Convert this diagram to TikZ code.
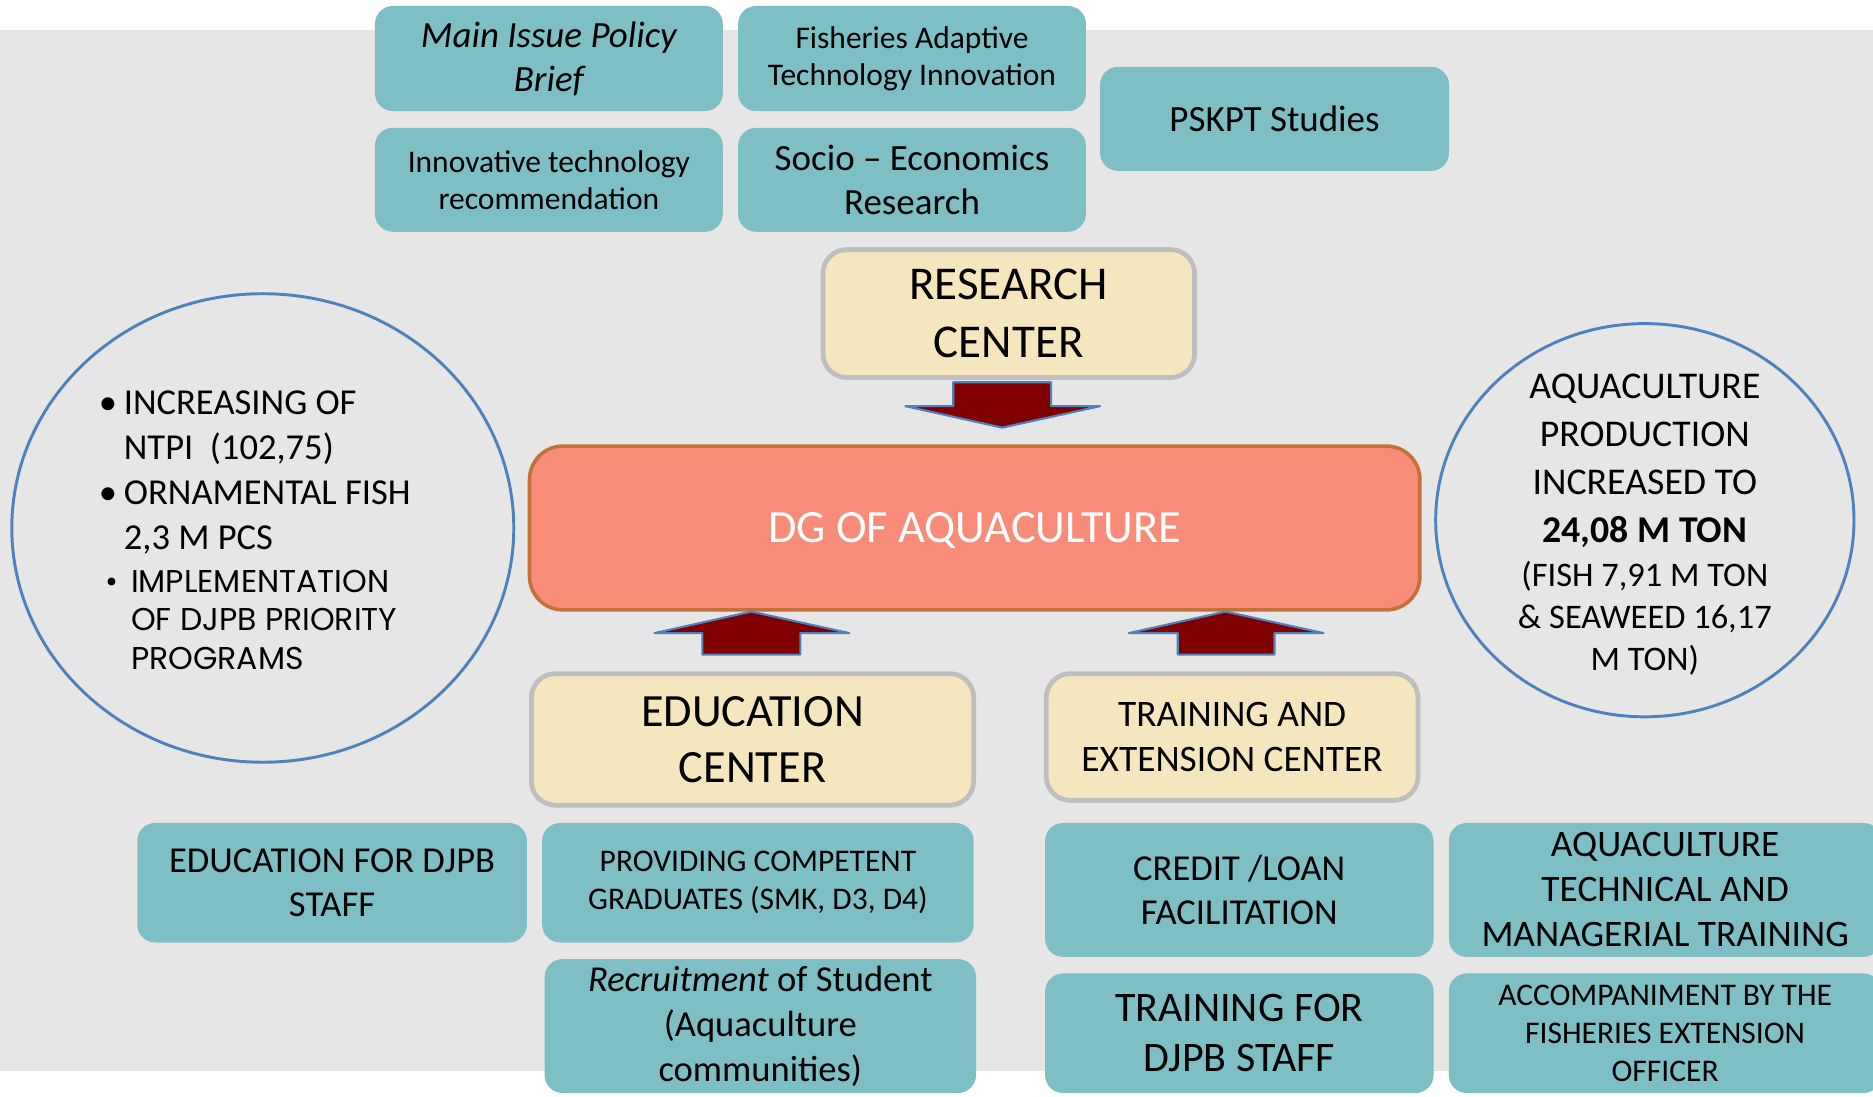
\documentclass[tikz,border=0pt]{standalone}
\usepackage{fontspec}
\setmainfont{Carlito}
\newfontfamily\geofont{Poppins}
\usetikzlibrary{shapes.geometric}
\definecolor{bggray}{RGB}{230,230,230}
\definecolor{tealbox}{RGB}{126,190,197}
\definecolor{wheatbox}{RGB}{246,230,189}
\definecolor{wheatborder}{RGB}{191,191,191}
\definecolor{dgfill}{RGB}{248,140,121}
\definecolor{dgborder}{RGB}{192,114,56}
\definecolor{arrowred}{RGB}{128,0,0}
\definecolor{arrowblue}{RGB}{79,129,189}
\newcommand{\lbul}{\makebox[0.15cm][l]{\hspace*{-0.06cm}•}}
\begin{document}
\begin{tikzpicture}[x=0.01cm,y=-0.01cm,
  tbox/.style={fill=tealbox, rounded corners=0.15cm, align=center, inner sep=0pt},
  cbox/.style={fill=wheatbox, draw=wheatborder, line width=0.04cm, rounded corners=0.2cm, align=center, inner sep=0pt},
  barrow/.style={fill=arrowred, draw=arrowblue, line width=0.5pt, line join=round},
  oval/.style={ellipse, draw=arrowblue, line width=0.7pt, inner sep=0pt}]
\path[use as bounding box] (0,0) rectangle (1568,918);
\fill[white] (0,0) rectangle (1568,918);
\fill[bggray] (0,25) rectangle (1568,897);

% top research outputs
\node[tbox, minimum width=2.91cm, minimum height=0.88cm, font=\fontsize{8.8}{10.5}\selectfont\itshape] (mib) at (459.5,49) {Main Issue Policy\\Brief};
\node[tbox, minimum width=2.91cm, minimum height=0.88cm, font=\fontsize{7.5}{8.8}\selectfont] (fat) at (763.5,49) {Fisheries Adaptive\\Technology Innovation};
\node[tbox, minimum width=2.91cm, minimum height=0.87cm, font=\fontsize{7.5}{8.8}\selectfont] (itr) at (459.5,150.5) {Innovative technology\\recommendation};
\node[tbox, minimum width=2.91cm, minimum height=0.87cm, font=\fontsize{8.8}{10.5}\selectfont] (ser) at (763.5,150.5) {Socio -- Economics\\Research};
\node[tbox, minimum width=2.92cm, minimum height=0.87cm, font=\fontsize{8.8}{10.5}\selectfont] (psk) at (1067,99.5) {PSKPT Studies};

% centers
\node[cbox, minimum width=3.11cm, minimum height=1.07cm, font=\fontsize{11.2}{13.7}\selectfont] (rc) at (844.5,262.5) {RESEARCH\\CENTER};
\node[fill=dgfill, draw=dgborder, line width=0.03cm, rounded corners=0.28cm, minimum width=7.45cm, minimum height=1.37cm, inner sep=0pt, text depth=0pt, text=white, font=\fontsize{11}{13.4}\selectfont] (dg) at (816,442) {DG OF AQUACULTURE};
\node[cbox, minimum width=3.70cm, minimum height=1.10cm, font=\fontsize{11}{13.4}\selectfont] (ec) at (630,619) {EDUCATION\\CENTER};
\node[cbox, minimum width=3.11cm, minimum height=1.06cm, font=\fontsize{8.9}{10.8}\selectfont] (tec) at (1031.5,617) {TRAINING AND\\EXTENSION CENTER};

% block arrows
\draw[barrow] (798,320) -- (798,340) -- (758,340) -- (839,358) -- (921,340) -- (880,340) -- (880,320) -- cycle;
\draw[barrow] (588,548) -- (588,530) -- (548,530) -- (629,512) -- (711,530) -- (670,530) -- (670,548) -- cycle;
\draw[barrow] (986,548) -- (986,530) -- (945,530) -- (1026,512) -- (1108,530) -- (1067,530) -- (1067,548) -- cycle;

% bottom outputs
\node[tbox, minimum width=3.26cm, minimum height=1.00cm, font=\fontsize{8.7}{10.5}\selectfont] (efd) at (278,739) {EDUCATION FOR DJPB\\STAFF};
\node[tbox, minimum width=3.61cm, minimum height=1.00cm, font=\fontsize{7.5}{9.1}\selectfont] (pcg) at (634.5,739) {PROVIDING COMPETENT\\GRADUATES (SMK, D3, D4)};
\node[tbox, minimum width=3.61cm, minimum height=1.12cm, font=\fontsize{8.7}{10.7}\selectfont] (ros) at (636.5,859) {\textit{Recruitment} of Student\\(Aquaculture\\communities)};
\node[tbox, minimum width=3.25cm, minimum height=1.12cm, font=\fontsize{8.7}{10.5}\selectfont] (clf) at (1037.5,745) {CREDIT /LOAN\\FACILITATION};
\node[tbox, minimum width=3.62cm, minimum height=1.12cm, font=\fontsize{8.9}{10.7}\selectfont] (atm) at (1394,745) {AQUACULTURE\\TECHNICAL AND\\MANAGERIAL TRAINING};
\node[tbox, minimum width=3.25cm, minimum height=1.00cm, font=\fontsize{10}{11.9}\selectfont] (tfd) at (1037.5,865) {TRAINING FOR\\DJPB STAFF};
\node[tbox, minimum width=3.62cm, minimum height=1.00cm, font=\fontsize{7.5}{9.1}\selectfont] (acc) at (1394,865) {ACCOMPANIMENT BY THE\\FISHERIES EXTENSION\\OFFICER};

% left oval
\node[oval, minimum width=4.2cm, minimum height=3.92cm] (lc) at (220,442) {};
\node[anchor=west, align=left, inner sep=0pt, font=\fontsize{8.7}{10.7}\selectfont] (lct) at (88,395.5)
  {\lbul INCREASING OF\\\hspace*{0.15cm}NTPI\ \ (102,75)\\\lbul ORNAMENTAL FISH\\\hspace*{0.15cm}2,3 M PCS};
\node[anchor=west, align=left, inner sep=0pt, font=\fontsize{7.5}{9.1}\selectfont\geofont] (lcb) at (88,519)
  {\makebox[0.21cm][l]{•}IMPLEMENTATION\\\hspace*{0.21cm}OF DJPB PRIORITY\\\hspace*{0.21cm}PROGRAMS};

% right oval
\node[oval, minimum width=3.5cm, minimum height=3.29cm] (rcirc) at (1377,435.5) {};
\node[align=center, inner sep=0pt, font=\fontsize{9}{11.4}\selectfont] (rct) at (1377,385.5) {AQUACULTURE\\PRODUCTION\\INCREASED TO\\\textbf{24,08 M TON}};
\node[align=center, inner sep=0pt, font=\fontsize{8.2}{10}\selectfont] (rcb) at (1377,518) {(FISH 7,91 M TON\\\& SEAWEED 16,17\\M TON)};
\end{tikzpicture}
\end{document}
